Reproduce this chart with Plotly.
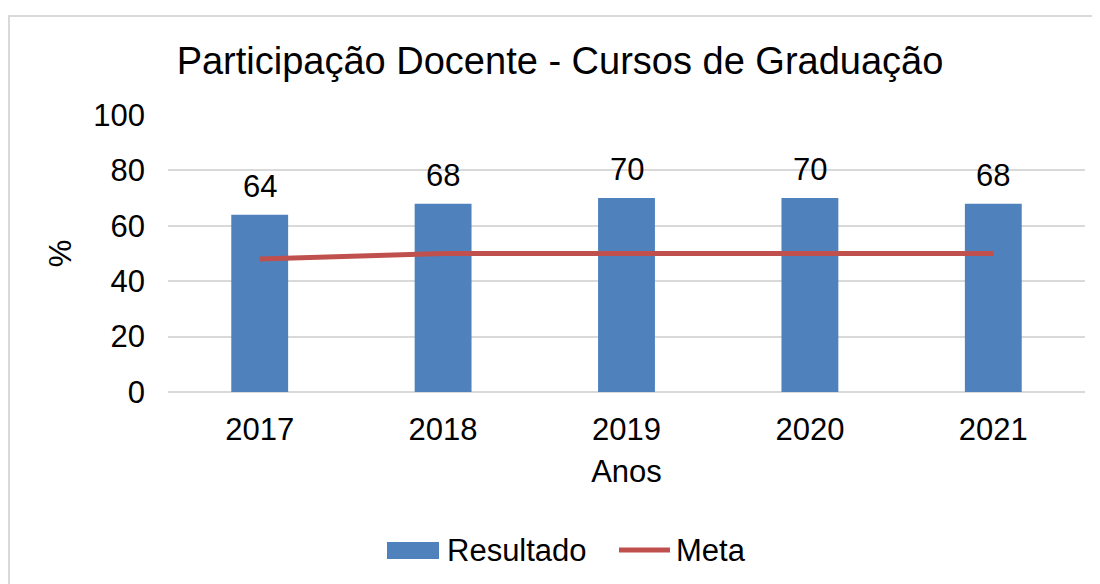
import plotly.graph_objects as go

anos = ["2017", "2018", "2019", "2020", "2021"]
resultado = [64, 68, 70, 70, 68]
meta = [48, 50, 50, 50, 50]

# page body has 8px margin: work in reference pixels, shift by OFF
OFF = 8
W, H = 1100 - OFF, 584 - OFF
L, R, T, B = 168 - OFF, 15, 115 - OFF, 192
pw, ph = W - L - R, H - T - B

font = "Liberation Sans, Arial, sans-serif"
BLUE = "#4F81BD"
RED = "#C0504D"


def px_x(p):
    return (p - OFF - L) / pw


def px_y(p):
    return (H - B - (p - OFF)) / ph


fig = go.Figure()
fig.add_trace(go.Bar(
    x=anos, y=resultado, name="Resultado",
    marker=dict(color=BLUE, line=dict(width=0)), width=0.31,
    showlegend=False,
))
fig.add_trace(go.Scatter(
    x=anos, y=meta, name="Meta", mode="lines",
    line=dict(color=RED, width=5), showlegend=False,
))

# data labels (category index positions on the category axis)
for i, v in enumerate(resultado):
    fig.add_annotation(x=i, y=v, text=str(v), showarrow=False,
                       yanchor="bottom", yshift=9,
                       font=dict(size=31, family=font, color="#000000"))

# chart border
fig.add_shape(type="rect", xref="paper", yref="paper",
              x0=px_x(9), x1=px_x(1115), y0=px_y(600), y1=px_y(16),
              line=dict(color="#D9D9D9", width=2), layer="below")

# legend
fig.add_shape(type="rect", xref="paper", yref="paper",
              x0=px_x(387), x1=px_x(439), y0=px_y(559), y1=px_y(542),
              fillcolor=BLUE, line=dict(width=0))
fig.add_annotation(xref="paper", yref="paper", x=px_x(445), y=px_y(550),
                   xanchor="left", yanchor="middle", text="Resultado",
                   showarrow=False, font=dict(size=31, family=font, color="#000000"))
fig.add_shape(type="line", xref="paper", yref="paper",
              x0=px_x(619), x1=px_x(670), y0=px_y(550), y1=px_y(550),
              line=dict(color=RED, width=5))
fig.add_annotation(xref="paper", yref="paper", x=px_x(674), y=px_y(550),
                   xanchor="left", yanchor="middle", text="Meta",
                   showarrow=False, font=dict(size=31, family=font, color="#000000"))

fig.update_layout(
    width=W, height=H,
    margin=dict(l=L, r=R, t=T, b=B),
    paper_bgcolor="white", plot_bgcolor="white",
    font=dict(family=font, color="#000000", size=31),
    title=dict(text="Participação Docente - Cursos de Graduação",
               x=(560 - OFF) / W, xanchor="center",
               y=1 - (61 - OFF) / H, yanchor="middle",
               font=dict(size=38, family=font, color="#000000")),
    showlegend=False,
    xaxis=dict(type="category", categoryorder="array", categoryarray=anos,
               range=[-0.5, len(anos) - 0.5],
               title=dict(text="Anos", font=dict(size=31), standoff=14),
               tickfont=dict(size=31), showgrid=False, showline=False, ticks="",
               ticklabelstandoff=16),
    yaxis=dict(title=dict(text="%", font=dict(size=31), standoff=12),
               range=[0, 100], dtick=20, tickfont=dict(size=31),
               showgrid=True, gridcolor="#D9D9D9", gridwidth=1.5,
               zeroline=True, zerolinecolor="#D9D9D9", zerolinewidth=1.5,
               showline=False, ticks="", ticklabelstandoff=22),
)

fig.write_html("out.html")
